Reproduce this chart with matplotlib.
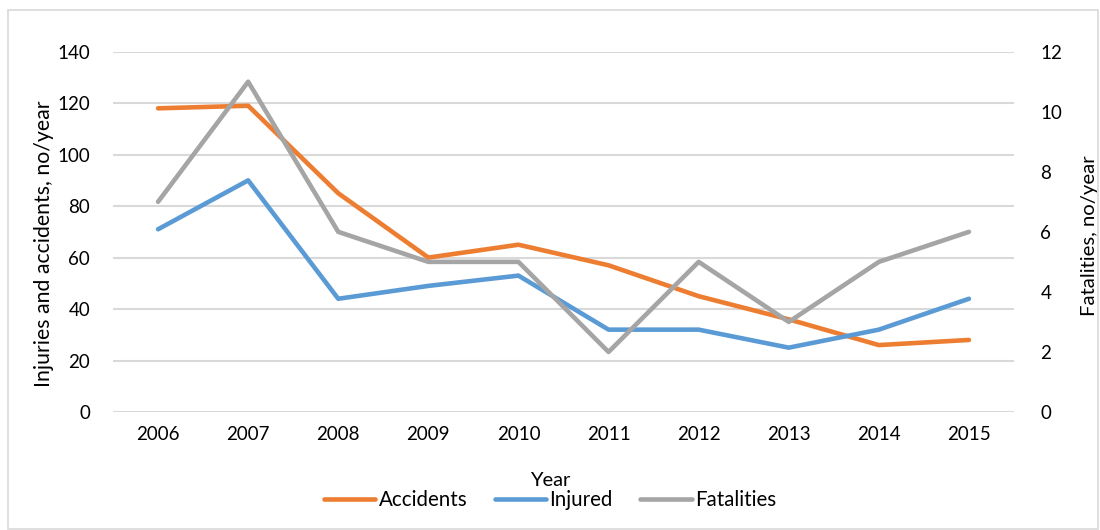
import matplotlib
matplotlib.use("Agg")
import matplotlib.pyplot as plt
from matplotlib.patches import Rectangle
from matplotlib.lines import Line2D

years = ["2006", "2007", "2008", "2009", "2010", "2011", "2012", "2013", "2014", "2015"]
accidents = [118, 119, 85, 60, 65, 57, 45, 36, 26, 28]
injured = [71, 90, 44, 49, 53, 32, 32, 25, 32, 44]
fatalities = [7, 11, 6, 5, 5, 2, 5, 3, 5, 6]

plt.rcParams['font.family'] = ['Lato', 'DejaVu Sans']
FS = 13.5

fig = plt.figure(figsize=(11, 5.3), dpi=100)
fig.patches.append(Rectangle((8/1100, 1/530), 1090/1100, 519/530, transform=fig.transFigure,
                             fill=False, edgecolor='#D9D9D9', linewidth=1.2))

ax = fig.add_axes([113/1100, 118/530, 901/1100, 360.3/530])
ax2 = ax.twinx()

x = list(range(len(years)))
c_acc, c_inj, c_fat = '#ED7D31', '#5B9BD5', '#A5A5A5'
lw = 3.3
l1, = ax.plot(x, accidents, color=c_acc, lw=lw, solid_capstyle='round', solid_joinstyle='round', zorder=3)
l2, = ax.plot(x, injured, color=c_inj, lw=lw, solid_capstyle='round', solid_joinstyle='round', zorder=3)
l3, = ax2.plot(x, fatalities, color=c_fat, lw=lw, solid_capstyle='round', solid_joinstyle='round', zorder=3)

ax.set_xlim(-0.5, len(years) - 0.5)
ax.set_ylim(0, 140)
ax2.set_ylim(0, 12)
ax.set_yticks(range(0, 141, 20))
ax2.set_yticks(range(0, 13, 2))
ax.set_xticks(x)
ax.set_xticklabels(years)

ax.grid(axis='y', color='#D9D9D9', linewidth=1.5)
ax.set_axisbelow(True)
for a in (ax, ax2):
    for s in a.spines.values():
        s.set_visible(False)
    a.tick_params(length=0, labelsize=FS, colors='black')
ax.tick_params(axis='y', pad=16.5)
ax.tick_params(axis='x', pad=10)
ax2.tick_params(axis='y', pad=19)

fig.text(44/1100, 1 - 244/530, "Injuries and accidents, no/year", rotation=90,
         ha='center', va='center', fontsize=15.3)
fig.text(1089/1100, 1 - 236/530, "Fatalities, no/year", rotation=90,
         ha='center', va='center', fontsize=14.6)
fig.text(550/1100, 1 - 480/530, "Year", ha='center', va='center', fontsize=14.5)

handles = [Line2D([], [], color=c, lw=3.3, solid_capstyle='round') for c in (c_acc, c_inj, c_fat)]
fig.legend(handles, ["Accidents", "Injured", "Fatalities"], loc='center',
           bbox_to_anchor=(550/1100, 1 - 500/530), ncol=3, frameon=False, fontsize=14.8,
           handlelength=2.5, handletextpad=0.15, columnspacing=1.35, borderaxespad=0)

fig.savefig("out.png", dpi=100, facecolor='white')
